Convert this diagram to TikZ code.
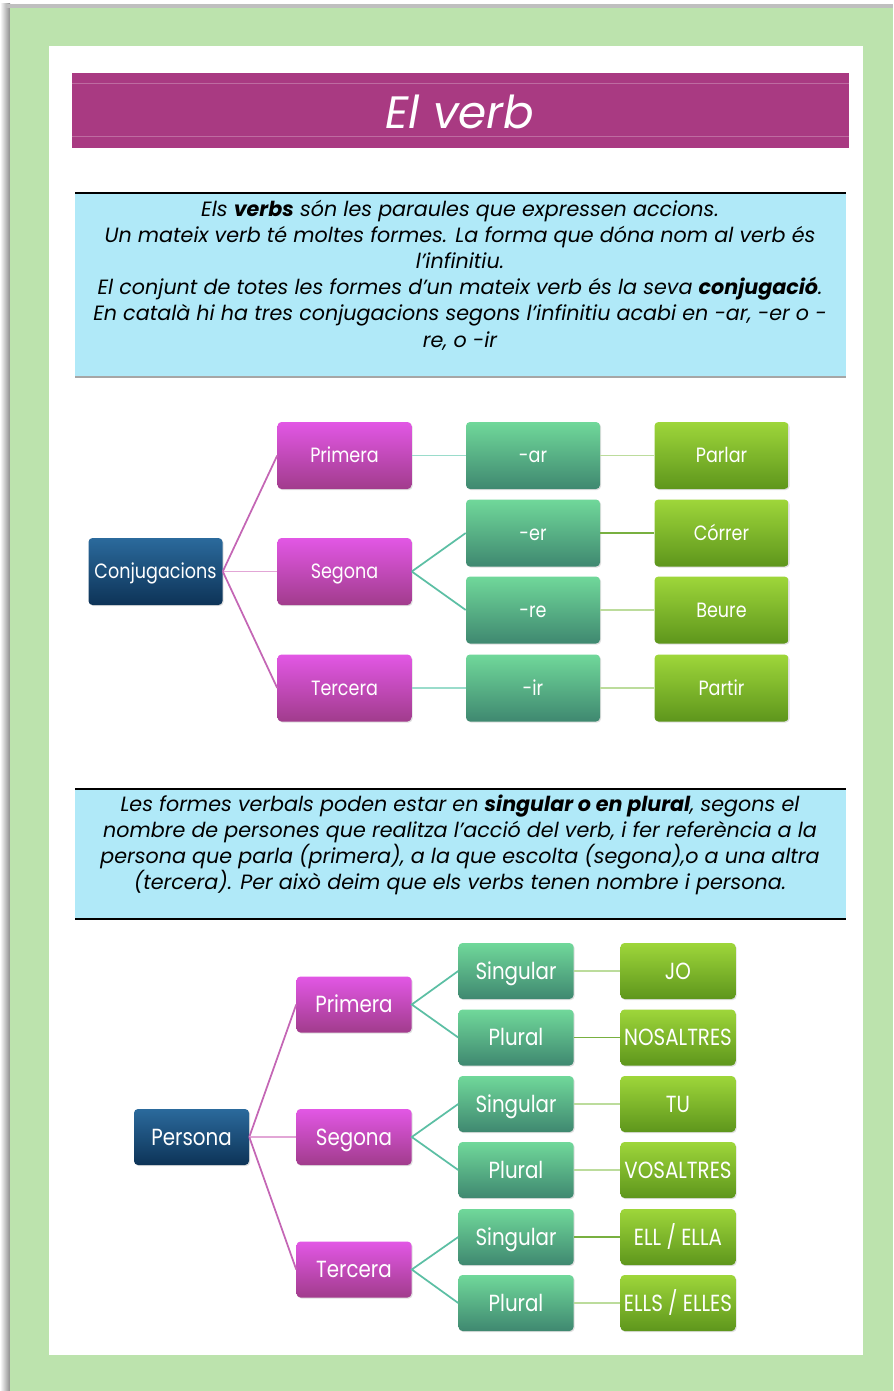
\documentclass[tikz,border=0pt]{standalone}
\usepackage{fontspec}
\setmainfont{Poppins}
\newfontfamily\boxfont[FakeStretch=0.85]{Poppins}
\usepackage{tikz}
\usetikzlibrary{shadows}

\definecolor{frameGreen}{HTML}{BCE3AD}
\definecolor{titleMagenta}{HTML}{A93A82}
\definecolor{infoBlue}{HTML}{B0E9F8}
\definecolor{rootTop}{HTML}{2B6A9C}
\definecolor{rootBot}{HTML}{0D3357}
\definecolor{pinkTop}{HTML}{E257E5}
\definecolor{pinkBot}{HTML}{A13C8C}
\definecolor{tealTop}{HTML}{70D89A}
\definecolor{tealBot}{HTML}{3F8870}
\definecolor{limeTop}{HTML}{9ED63A}
\definecolor{limeBot}{HTML}{5E961C}
\definecolor{pinkLine}{HTML}{C466B5}
\definecolor{pinkLight}{HTML}{E2A6D6}
\definecolor{tealLine}{HTML}{5CBFA4}
\definecolor{tealLight}{HTML}{9ADCCB}
\definecolor{limeLine}{HTML}{78B040}
\definecolor{limeLight}{HTML}{BCDC9C}

\begin{document}
\begin{tikzpicture}[x=0.75pt,y=-0.75pt,
  box/.style={rounded corners=3pt,minimum width=100.5pt,minimum height=50.25pt,inner sep=0pt,
    text=white,font=\boxfont\fontsize{15.5}{15.5}\selectfont,text height=11pt,text depth=0pt,
    drop shadow={shadow xshift=0.8pt,shadow yshift=-0.8pt,opacity=0.25}},
  rootbox/.style={box,top color=rootTop,bottom color=rootBot},
  pinkbox/.style={box,top color=pinkTop,bottom color=pinkBot},
  tealbox/.style={box,top color=tealTop,bottom color=tealBot},
  limebox/.style={box,top color=limeTop,bottom color=limeBot},
  small/.style={minimum width=86.25pt,minimum height=42pt,text height=12.4pt,
    font=\boxfont\fontsize{17.5}{17.5}\selectfont},
  link/.style={line width=1.3pt},
  infotext/.style={align=center,font=\itshape\fontsize{15.5}{19.6}\selectfont}]

% frame and page
\useasboundingbox (0,0) rectangle (893,1391);
\fill[white] (0,0) rectangle (893,1391);
\shade[left color=white,right color=black!45] (0,4) rectangle (10,1391);
\fill[black!25] (6,4) rectangle (893,8);
\fill[frameGreen] (10,8) rectangle (893,1391);
\fill[white] (49,46) rectangle (863,1355);

% title
\fill[titleMagenta] (72,73) rectangle (849,148);
\draw[titleMagenta!75!white,line width=0.75pt] (72,84) -- (849,84) (72,137) -- (849,137);
\node[text=white,font=\itshape\fontsize{34}{34}\selectfont] (title) at (460,112) {El verb};

% first text box
\fill[infoBlue] (75,193) rectangle (846,377);
\draw[line width=1.5pt] (75,193) -- (846,193);
\draw[black!35,line width=1.5pt] (75,377) -- (846,377);
\node[infotext] (intro) at (460,275) {Els \textbf{verbs} són les paraules que expressen accions.\\
Un mateix verb té moltes formes. La forma que dóna nom al verb és\\
l'infinitiu.\\
El conjunt de totes les formes d'un mateix verb és la seva \textbf{conjugació}.\\
En català hi ha tres conjugacions segons l'infinitiu acabi en -ar, -er o -\\
re, o -ir};

% conjugacions
\node[rootbox] (conj) at (155.5,571.5) {Conjugacions};
\node[pinkbox] (pri) at (344.5,455.5) {Primera};
\node[pinkbox] (seg) at (344.5,571.5) {Segona};
\node[pinkbox] (ter) at (344.5,688) {Tercera};
\node[tealbox] (ar) at (533,455.5) {-ar};
\node[tealbox] (er) at (533,533) {-er};
\node[tealbox] (re) at (533,610) {-re};
\node[tealbox] (ir) at (533,688) {-ir};
\node[limebox] (parlar) at (721.5,455.5) {Parlar};
\node[limebox] (correr) at (721.5,533) {Córrer};
\node[limebox] (beure) at (721.5,610) {Beure};
\node[limebox] (partir) at (721.5,688) {Partir};

\draw[link,pinkLine] (conj.east) -- (pri.west);
\draw[link,pinkLight] (conj.east) -- (seg.west);
\draw[link,pinkLine] (conj.east) -- (ter.west);
\draw[link,tealLight] (pri.east) -- (ar.west);
\draw[link,tealLine] (seg.east) -- (er.west);
\draw[link,tealLine] (seg.east) -- (re.west);
\draw[link,tealLight] (ter.east) -- (ir.west);
\draw[link,limeLight] (ar.east) -- (parlar.west);
\draw[link,limeLine] (er.east) -- (correr.west);
\draw[link,limeLight] (re.east) -- (beure.west);
\draw[link,limeLight] (ir.east) -- (partir.west);

% second text box
\fill[infoBlue] (75,789) rectangle (846,919);
\draw[line width=1.5pt] (75,789) -- (846,789) (75,919) -- (846,919);
\node[infotext] (nombre) at (460,845) {Les formes verbals poden estar en \textbf{singular o en plural}, segons el\\
nombre de persones que realitza l’acció del verb, i fer referència a la\\
persona que parla (primera), a la que escolta (segona),o a una altra\\
(tercera). Per això deim que els verbs tenen nombre i persona.};

% persona
\node[rootbox,small] (pers) at (191.5,1137) {Persona};
\node[pinkbox,small] (priP) at (354,1004.5) {Primera};
\node[pinkbox,small] (segP) at (354,1137) {Segona};
\node[pinkbox,small] (terP) at (354,1269.5) {Tercera};
\node[tealbox,small] (sg1) at (516,971) {Singular};
\node[tealbox,small] (pl1) at (516,1037.5) {Plural};
\node[tealbox,small] (sg2) at (516,1104) {Singular};
\node[tealbox,small] (pl2) at (516,1170) {Plural};
\node[tealbox,small] (sg3) at (516,1237) {Singular};
\node[tealbox,small] (pl3) at (516,1303) {Plural};
\node[limebox,small] (jo) at (678,971) {JO};
\node[limebox,small] (nos) at (678,1037.5) {NOSALTRES};
\node[limebox,small] (tu) at (678,1104) {TU};
\node[limebox,small] (vos) at (678,1170) {VOSALTRES};
\node[limebox,small] (ell) at (678,1237) {ELL / ELLA};
\node[limebox,small] (ells) at (678,1303) {ELLS / ELLES};

\draw[link,pinkLine] (pers.east) -- (priP.west);
\draw[link,pinkLight] (pers.east) -- (segP.west);
\draw[link,pinkLine] (pers.east) -- (terP.west);
\foreach \p/\a/\b in {priP/sg1/pl1,segP/sg2/pl2,terP/sg3/pl3}
  \draw[link,tealLine] (\a.west) -- (\p.east) -- (\b.west);
\draw[link,limeLight] (sg1.east) -- (jo.west);
\draw[link,limeLine] (pl1.east) -- (nos.west);
\draw[link,limeLight] (sg2.east) -- (tu.west);
\draw[link,limeLight] (pl2.east) -- (vos.west);
\draw[link,limeLine] (sg3.east) -- (ell.west);
\draw[link,limeLight] (pl3.east) -- (ells.west);
\end{tikzpicture}
\end{document}
